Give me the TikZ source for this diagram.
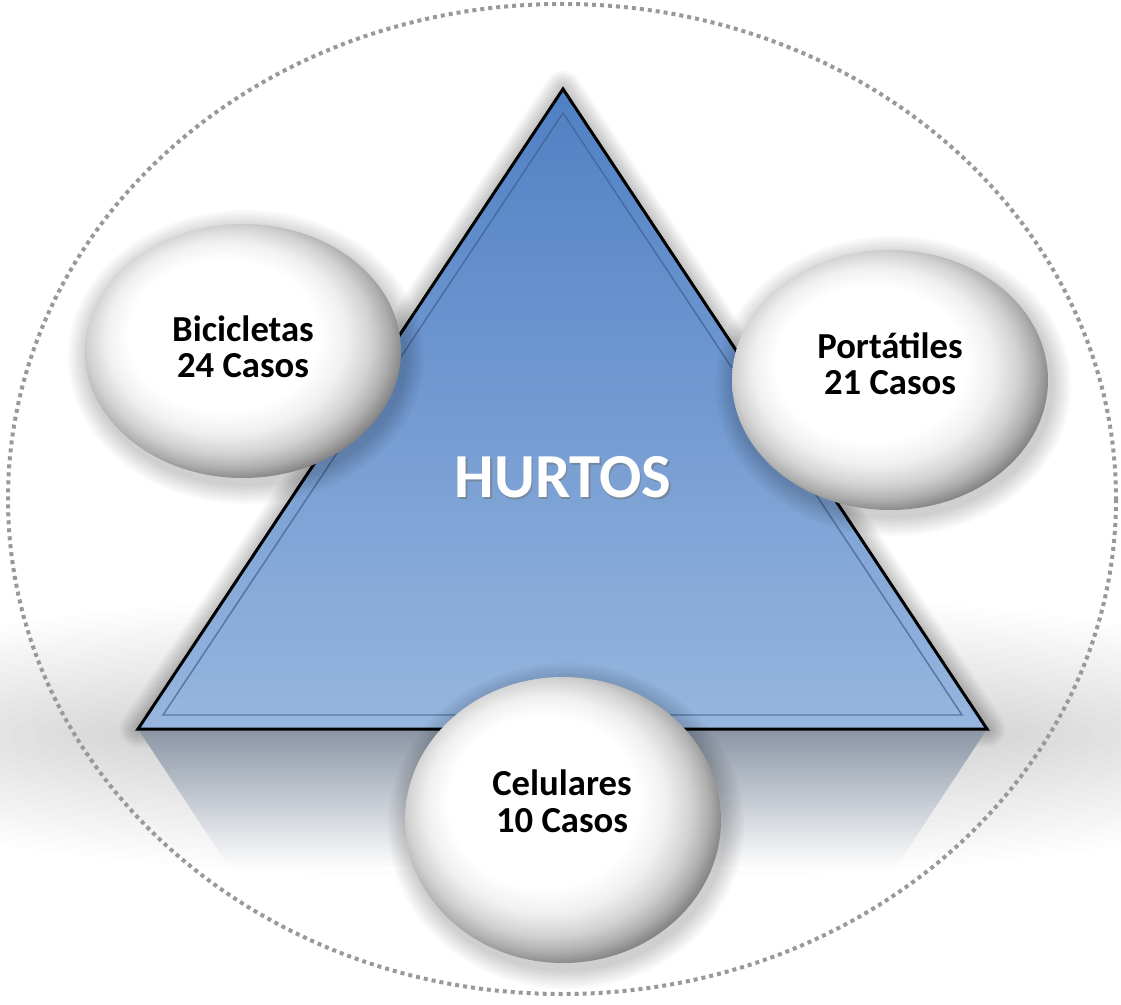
\documentclass[tikz,border=0pt]{standalone}
\usepackage{fontspec}
\setmainfont{Carlito}
\usetikzlibrary{shapes.geometric}
\definecolor{triTop}{HTML}{4F80C4}
\definecolor{triMid}{HTML}{7EA2D3}
\definecolor{triBot}{HTML}{97B6DF}
\definecolor{dotgray}{HTML}{999999}
\definecolor{innerline}{HTML}{3F5F8A}
\definecolor{reflTop}{HTML}{8A95A5}
\definecolor{reflMid}{HTML}{D3DBE6}
\pgfdeclareradialshading{sphereshade}{\pgfpoint{-5bp}{5bp}}{%
  color(0bp)=(white); color(15bp)=(white); color(19bp)=(black!6);
  color(22.5bp)=(black!18); color(25bp)=(black!32); color(27.5bp)=(black!52);
  color(30bp)=(black!70); color(40bp)=(black!72)}
\tikzset{
  sphere/.style={ellipse, shade, shading=sphereshade, inner sep=0pt},
  labeltext/.style={font=\fontsize{27.5}{27.5}\selectfont\bfseries, align=center, text=black, anchor=base},
  bigtext/.style={font=\fontsize{47}{50}\selectfont\bfseries, anchor=base}
}
\newcommand{\sphhalo}[4]{%
  \foreach \i in {1,...,8}
    \fill[black, opacity=0.022] (#1+3,#2+6) ellipse ({#3+2.5*\i} and {#4+2.5*\i});}
\begin{document}
\begin{tikzpicture}[x=0.75pt,y=-0.75pt]
\useasboundingbox (0,0) rectangle (1121,1005);
\fill[white] (0,0) rectangle (1121,1005);
% floor shading
\foreach \i in {1,...,20}
  \fill[black, opacity=0.008] (563,735) ellipse ({420+22*\i} and {25+6*\i});
% dotted outer ellipse
\draw[dotgray, line width=3pt, dash pattern=on 3pt off 3pt] (562,499) ellipse (554 and 495);
% triangle glow
\foreach \w in {2,...,9}
  \draw[black, opacity=0.028, line width=\w*3pt, line join=round]
    (563,89) -- (987,729) -- (138,729) -- cycle;
% reflection
\shade[top color=reflTop, middle color=reflMid, bottom color=white]
  (138,729) -- (987,729) -- (894,870) -- (231,870) -- cycle;
% triangle
\shade[top color=triTop, middle color=triMid, bottom color=triBot]
  (563,89) -- (987,729) -- (138,729) -- cycle;
\draw[black, line width=2.25pt, line join=miter] (563,89) -- (987,729) -- (138,729) -- cycle;
\draw[innerline, opacity=0.7, line width=1.1pt] (563,113) -- (962,715) -- (163,715) -- cycle;
\node[bigtext, text=black!55, opacity=0.55] (hurtosShadow) at (564.5,499) {HURTOS};
\node[bigtext, text=white] (hurtos) at (563,497) {HURTOS};
% spheres
\sphhalo{243}{351}{158}{127}
\sphhalo{890}{380}{158}{130}
\sphhalo{563}{820}{158}{143}
\node[sphere, minimum width=237pt, minimum height=190.5pt] (bic) at (243,351) {};
\node[sphere, minimum width=237pt, minimum height=195pt] (por) at (890,380) {};
\node[sphere, minimum width=237pt, minimum height=214.5pt] (cel) at (563,820) {};
\node[labeltext] (bicL) at (243,378) {Bicicletas\\24 Casos};
\node[labeltext] (porL) at (890,395) {Portátiles\\21 Casos};
\node[labeltext] (celL) at (562,832) {Celulares\\10 Casos};
\end{tikzpicture}
\end{document}
